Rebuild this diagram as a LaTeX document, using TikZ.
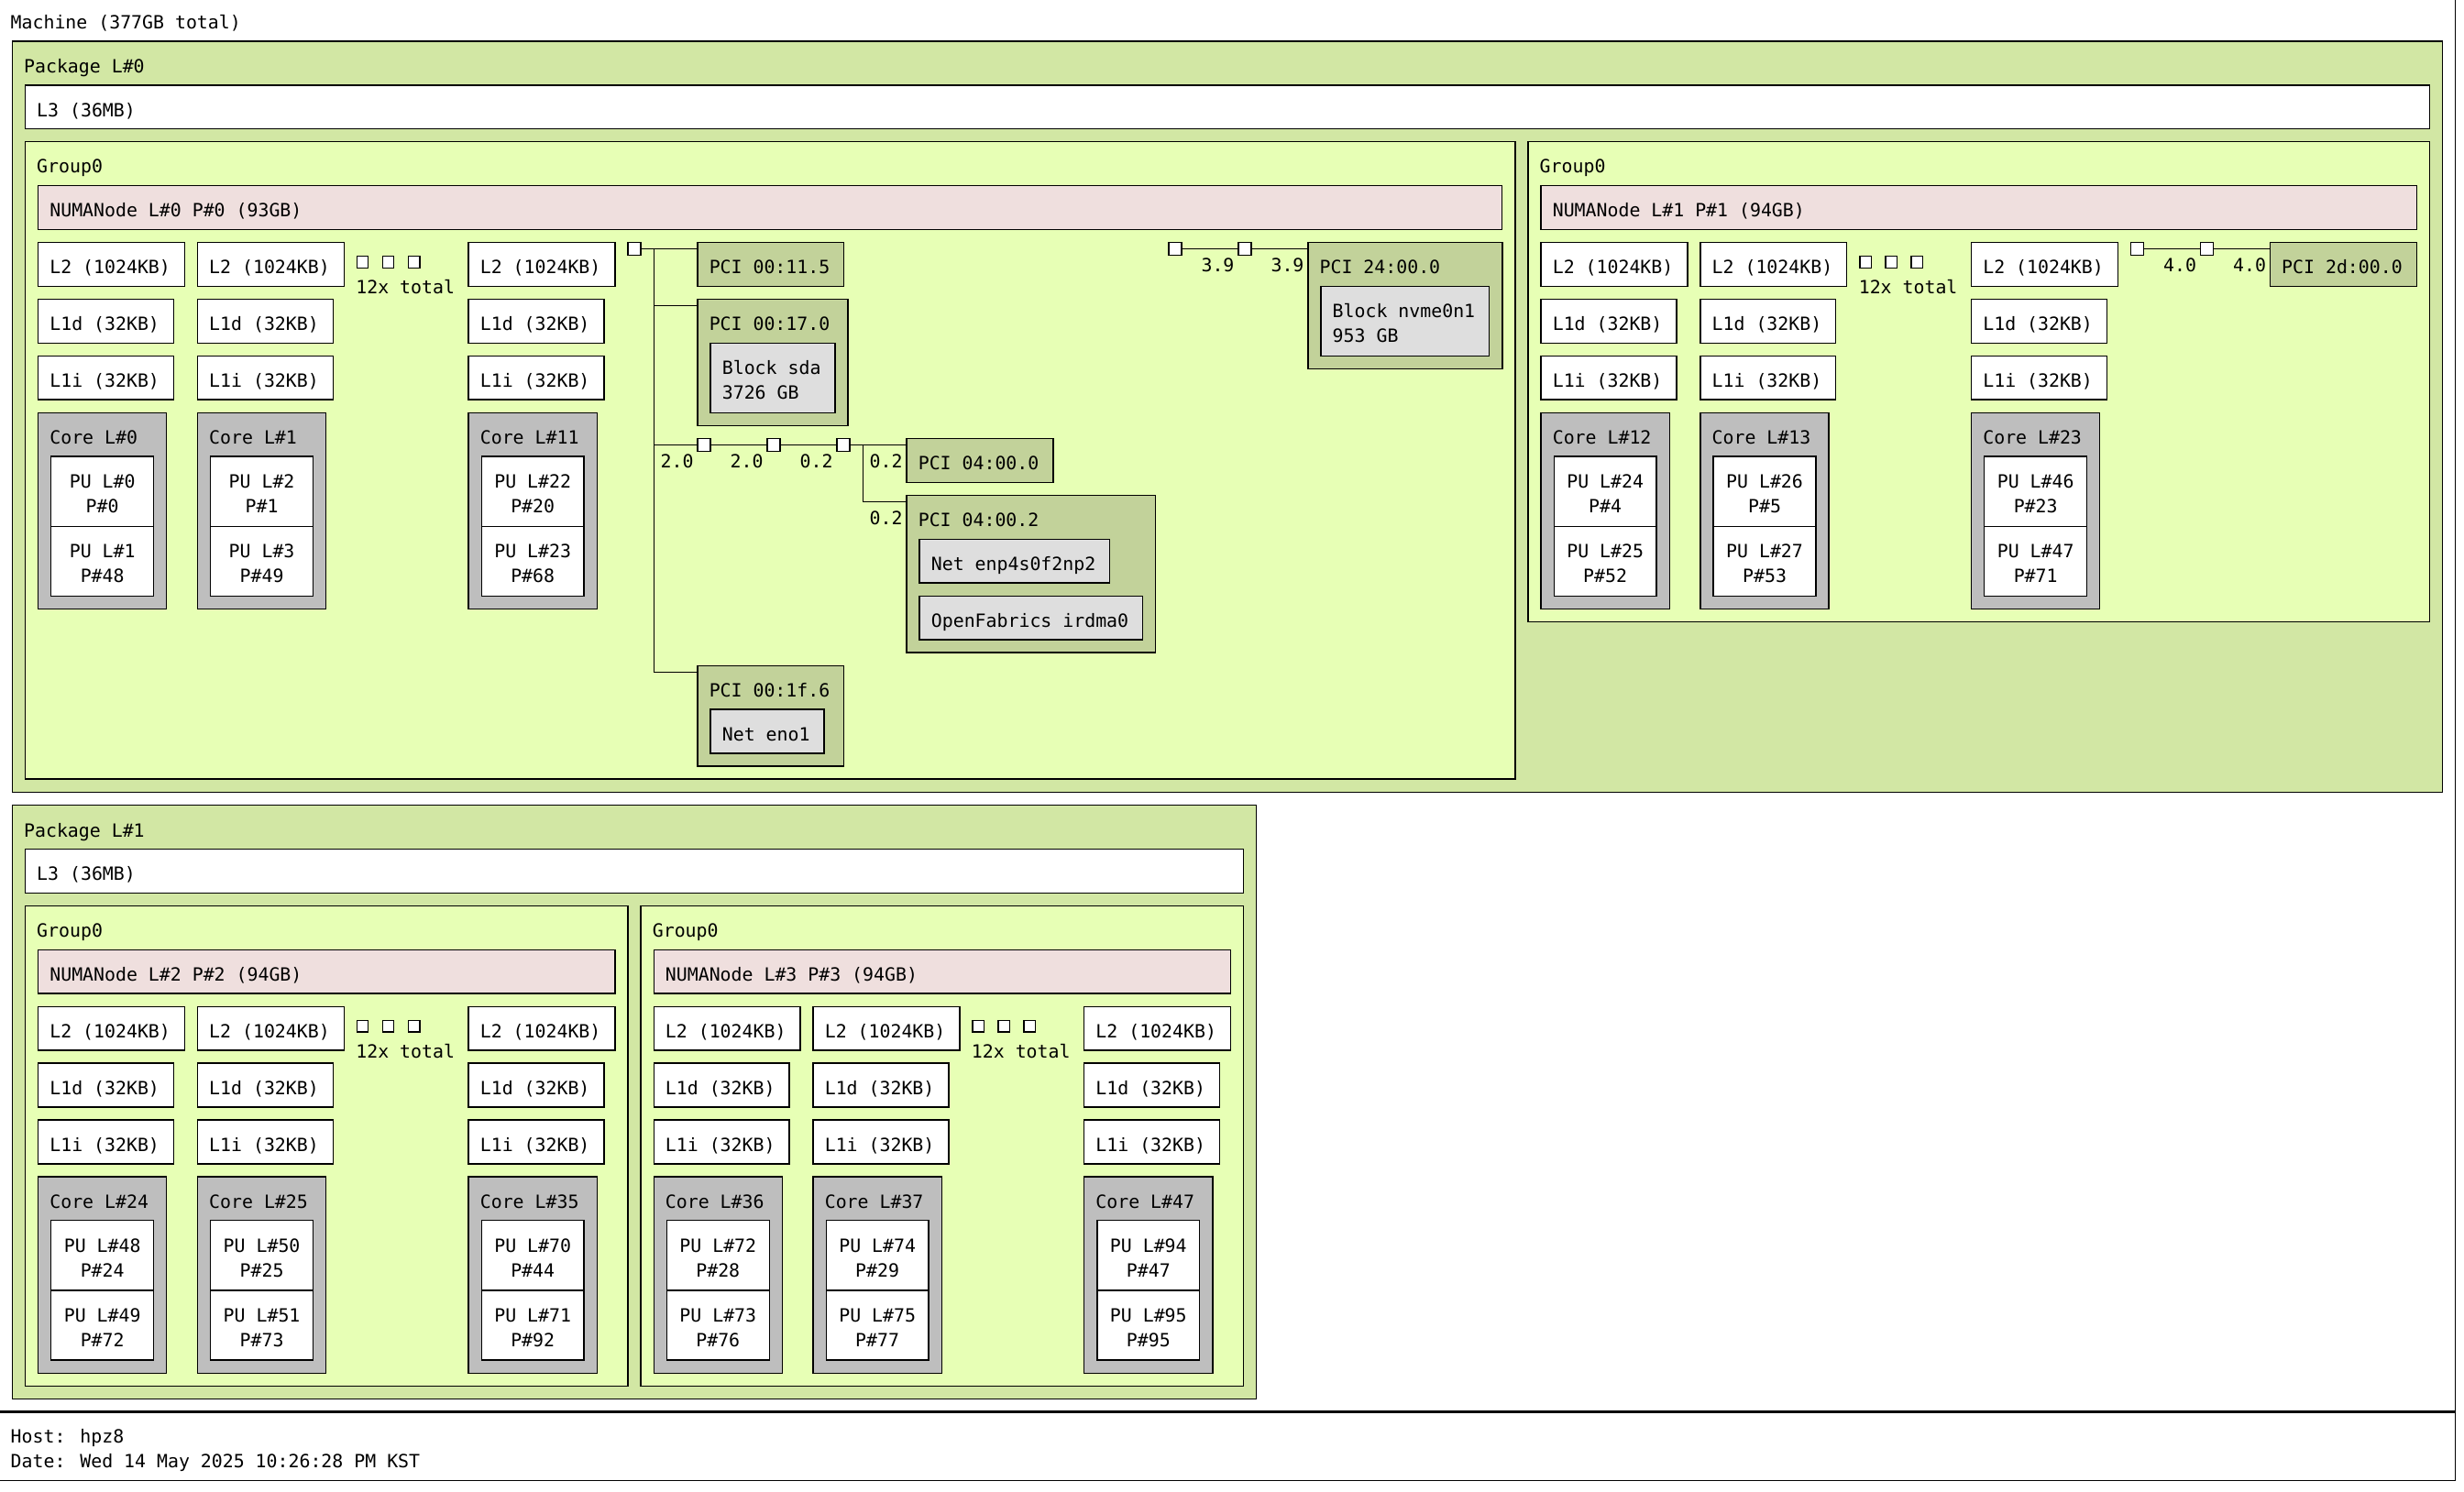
\documentclass[tikz,border=0pt]{standalone}
\usepackage{fontspec}
\newfontfamily\hwmono{DejaVu Sans Mono}
\newcommand{\hwfont}{\hwmono\fontsize{11.55}{15.9}\selectfont}
\definecolor{pkgc}{RGB}{210,231,164}
\definecolor{grpc}{RGB}{231,255,181}
\definecolor{numac}{RGB}{239,223,222}
\definecolor{corec}{RGB}{190,190,190}
\definecolor{pcic}{RGB}{194,210,154}
\definecolor{osc}{RGB}{222,222,222}
\def\G{8.2}\def\C{6.955}\def\B{27.8}\def\P{44.3}\def\TX{7.4}
\tikzset{
  hwb/.style={draw=black,line width=0.8pt,inner sep=0pt,outer sep=0pt,anchor=north west},
  cache/.style={fill=white},
  core/.style={fill=corec},
  pu/.style={fill=white},
  pkg/.style={fill=pkgc},
  grp/.style={fill=grpc},
  numa/.style={fill=numac},
  pcidev/.style={fill=pcic},
  osdev/.style={fill=osc},
  brsq/.style={fill=white},
  hwt/.style={inner sep=0pt,outer sep=0pt,font=\hwfont},
  link/.style={draw=black,line width=0.8pt},
}
\newcommand{\hwrect}[6]{%
  \pgfmathsetlengthmacro\hwW{#4}\pgfmathsetlengthmacro\hwH{#5}%
  \node[hwb,#6,minimum width=\hwW,minimum height=\hwH] (#1) at ({#2},{#3}) {};}
\newcommand{\hwtxt}[4]{\node[hwt,anchor=base west] (#1) at ({#2},{#3}) {#4};}
\newcommand{\hwctxt}[4]{\node[hwt,anchor=base] (#1) at ({#2},{#3}) {#4};}
\newcommand{\hwrtxt}[4]{\node[hwt,anchor=base east] (#1) at ({#2},{#3}) {#4};}
\newcommand{\hwtbox}[7]{\hwrect{#1}{#2}{#3}{#4}{#5}{#6}\hwtxt{#1t}{#2+\TX}{#3+19.9}{#7}}
\newcommand{\hwgrp}[6]{%
  \hwtbox{#1}{#2}{#3}{#4}{#5}{grp}{Group0}%
  \hwtbox{#1n}{#2+\G}{#3+\B}{#4-2*\G}{\B}{numa}{#6}}
\newcommand{\hwcol}[8]{%
  \hwtbox{#1a}{#2}{#3}{11*\C+2*\G}{\B}{cache}{L2 (1024KB)}%
  \hwtbox{#1b}{#2}{#3+\B+\G}{10*\C+2*\G}{\B}{cache}{L1d (32KB)}%
  \hwtbox{#1c}{#2}{#3+2*(\B+\G)}{10*\C+2*\G}{\B}{cache}{L1i (32KB)}%
  \hwtbox{#1d}{#2}{#3+3*(\B+\G)}{7*\C+4*\G}{\B+2*\P+\G}{core}{#4}%
  \hwrect{#1e}{#2+\G}{#3+3*(\B+\G)+\B}{7*\C+2*\G}{\P}{pu}%
  \hwctxt{#1e1}{#2+2*\G+3.5*\C}{#3+3*(\B+\G)+\B+19.9}{#5}%
  \hwctxt{#1e2}{#2+2*\G+3.5*\C}{#3+3*(\B+\G)+\B+35.8}{#6}%
  \hwrect{#1f}{#2+\G}{#3+3*(\B+\G)+\B+\P}{7*\C+2*\G}{\P}{pu}%
  \hwctxt{#1f1}{#2+2*\G+3.5*\C}{#3+3*(\B+\G)+\B+\P+19.9}{#7}%
  \hwctxt{#1f2}{#2+2*\G+3.5*\C}{#3+3*(\B+\G)+\B+\P+35.8}{#8}}
\newcommand{\hwdots}[3]{%
  \hwrect{#1a}{#2}{#3+8.8}{7.2}{7.4}{brsq}%
  \hwrect{#1b}{#2+16.3}{#3+8.8}{7.2}{7.4}{brsq}%
  \hwrect{#1c}{#2+32.6}{#3+8.8}{7.2}{7.4}{brsq}%
  \hwtxt{#1t}{#2-0.6}{#3+32.7}{12x total}}
\begin{document}
\begin{tikzpicture}[x=1pt,y=-1pt]
\useasboundingbox (0,0) rectangle (1563,946.6);
\fill[white] (0,0) rectangle (1563,946.6);
% machine and legend frame
\draw[link] (1557.5,0) -- (1557.5,939.5) -- (0,939.5);
\draw[line width=1.4pt] (0,895.8) -- (1557.5,895.8);
\hwtxt{mlab}{6.8}{18.4}{Machine (377GB total)}
\hwtxt{host}{6.8}{915.8}{Host: hpz8}
\hwtxt{date}{6.8}{931.3}{Date: Wed 14 May 2025 10:26:28 PM KST}
% ---------------- Package L#0
\hwtbox{pkgA}{7.8}{26.2}{1541.515}{476.3}{pkg}{Package L\#0}
\hwtbox{lthreeA}{16}{54}{1525.115}{\B}{cache}{L3 (36MB)}
% left group
\hwgrp{grpA}{16}{90}{945.1}{404.3}{NUMANode L\#0 P\#0 (93GB)}
\hwcol{cA}{24.2}{153.8}{Core L\#0}{PU L\#0}{P\#0}{PU L\#1}{P\#48}
\hwcol{cB}{125.305}{153.8}{Core L\#1}{PU L\#2}{P\#1}{PU L\#3}{P\#49}
\hwdots{dA}{226.41}{153.8}
\hwcol{cC}{297.205}{153.8}{Core L\#11}{PU L\#22}{P\#20}{PU L\#23}{P\#68}
% PCI tree 1
\hwrect{hbA}{398.31}{153.8}{\G}{\G}{brsq}
\hwtbox{pciA}{442.51}{153.8}{11*\C+2*\G}{\B}{pcidev}{PCI 00:11.5}
\hwtbox{pciB}{442.51}{189.8}{9*\C+4*\G}{\B+\P+\G}{pcidev}{PCI 00:17.0}
\hwrect{blkA}{450.71}{217.6}{9*\C+2*\G}{\P}{osdev}
\hwtxt{blkAa}{450.71+\TX}{217.6+19.9}{Block sda}
\hwtxt{blkAb}{450.71+\TX}{217.6+35.8}{3726 GB}
\hwrect{brA}{442.51}{278.3}{\G}{\G}{brsq}
\hwrect{brB}{486.71}{278.3}{\G}{\G}{brsq}
\hwrect{brC}{530.91}{278.3}{\G}{\G}{brsq}
\hwtbox{pciC}{575.11}{278.3}{11*\C+2*\G}{\B}{pcidev}{PCI 04:00.0}
\hwtbox{pciD}{575.11}{314.3}{18*\C+4*\G}{3*\B+2*\G}{pcidev}{PCI 04:00.2}
\hwtbox{netA}{583.31}{342.1}{15*\C+2*\G}{\B}{osdev}{Net enp4s0f2np2}
\hwtbox{ofA}{583.31}{378.1}{18*\C+2*\G}{\B}{osdev}{OpenFabrics irdma0}
\hwtbox{pciE}{442.51}{422.3}{11*\C+2*\G}{2*\B+\G}{pcidev}{PCI 00:1f.6}
\hwtbox{netB}{450.71}{450.1}{8*\C+2*\G}{\B}{osdev}{Net eno1}
\coordinate (busAt) at (414.91,157.9);
\coordinate (busAb) at (414.91,426.4);
\coordinate (busAm) at (414.91,193.9);
\coordinate (busBb) at (547.51,318.4);
\draw[link] (hbA.east) -- (pciA.north west |- hbA.east);
\draw[link] (busAt) -- (busAb) -- (pciE.north west |- busAb);
\draw[link] (busAm) -- (pciB.north west |- busAm);
\draw[link] (busAt |- brA.west) -- (brA.west);
\draw[link] (brA.east) -- (brB.west);
\draw[link] (brB.east) -- (brC.west);
\draw[link] (brC.east) -- (pciC.north west |- brC.east);
\draw[link] (busBb |- brC.east) -- (busBb) -- (pciD.north west |- busBb);
\hwrtxt{lkA}{442.51-2.6}{296.8}{2.0}
\hwrtxt{lkB}{486.71-2.6}{296.8}{2.0}
\hwrtxt{lkC}{530.91-2.6}{296.8}{0.2}
\hwrtxt{lkD}{575.11-2.6}{296.8}{0.2}
\hwrtxt{lkE}{575.11-2.6}{332.8}{0.2}
% PCI tree 2
\hwrect{hbB}{741.3}{153.8}{\G}{\G}{brsq}
\hwrect{brD}{785.5}{153.8}{\G}{\G}{brsq}
\hwtbox{pciF}{829.7}{153.8}{13*\C+4*\G}{\B+\P+\G}{pcidev}{PCI 24:00.0}
\hwrect{blkB}{837.9}{181.6}{13*\C+2*\G}{\P}{osdev}
\hwtxt{blkBa}{837.9+\TX}{181.6+19.9}{Block nvme0n1}
\hwtxt{blkBb}{837.9+\TX}{181.6+35.8}{953 GB}
\draw[link] (hbB.east) -- (brD.west);
\draw[link] (brD.east) -- (pciF.north west |- brD.east);
\hwrtxt{lkF}{785.5-2.6}{172.3}{3.9}
\hwrtxt{lkG}{829.7-2.6}{172.3}{3.9}
% right group
\hwgrp{grpB}{969.3}{90}{571.815}{304.6}{NUMANode L\#1 P\#1 (94GB)}
\hwcol{cD}{977.5}{153.8}{Core L\#12}{PU L\#24}{P\#4}{PU L\#25}{P\#52}
\hwcol{cE}{1078.605}{153.8}{Core L\#13}{PU L\#26}{P\#5}{PU L\#27}{P\#53}
\hwdots{dB}{1179.71}{153.8}
\hwcol{cF}{1250.505}{153.8}{Core L\#23}{PU L\#46}{P\#23}{PU L\#47}{P\#71}
\hwrect{hbC}{1351.61}{153.8}{\G}{\G}{brsq}
\hwrect{brE}{1395.81}{153.8}{\G}{\G}{brsq}
\hwtbox{pciG}{1440.01}{153.8}{11*\C+2*\G}{\B}{pcidev}{PCI 2d:00.0}
\draw[link] (hbC.east) -- (brE.west);
\draw[link] (brE.east) -- (pciG.north west |- brE.east);
\hwrtxt{lkH}{1395.81-2.6}{172.3}{4.0}
\hwrtxt{lkI}{1440.01-2.6}{172.3}{4.0}
% ---------------- Package L#1
\hwtbox{pkgB}{7.8}{511}{789.22}{376.6}{pkg}{Package L\#1}
\hwtbox{lthreeB}{16}{538.8}{772.82}{\B}{cache}{L3 (36MB)}
\hwgrp{grpC}{16}{574.8}{382.31}{304.6}{NUMANode L\#2 P\#2 (94GB)}
\hwcol{cG}{24.2}{638.6}{Core L\#24}{PU L\#48}{P\#24}{PU L\#49}{P\#72}
\hwcol{cH}{125.305}{638.6}{Core L\#25}{PU L\#50}{P\#25}{PU L\#51}{P\#73}
\hwdots{dC}{226.41}{638.6}
\hwcol{cI}{297.205}{638.6}{Core L\#35}{PU L\#70}{P\#44}{PU L\#71}{P\#92}
\hwgrp{grpD}{406.51}{574.8}{382.31}{304.6}{NUMANode L\#3 P\#3 (94GB)}
\hwcol{cJ}{414.71}{638.6}{Core L\#36}{PU L\#72}{P\#28}{PU L\#73}{P\#76}
\hwcol{cK}{515.815}{638.6}{Core L\#37}{PU L\#74}{P\#29}{PU L\#75}{P\#77}
\hwdots{dD}{616.92}{638.6}
\hwcol{cL}{687.715}{638.6}{Core L\#47}{PU L\#94}{P\#47}{PU L\#95}{P\#95}
\end{tikzpicture}
\end{document}
